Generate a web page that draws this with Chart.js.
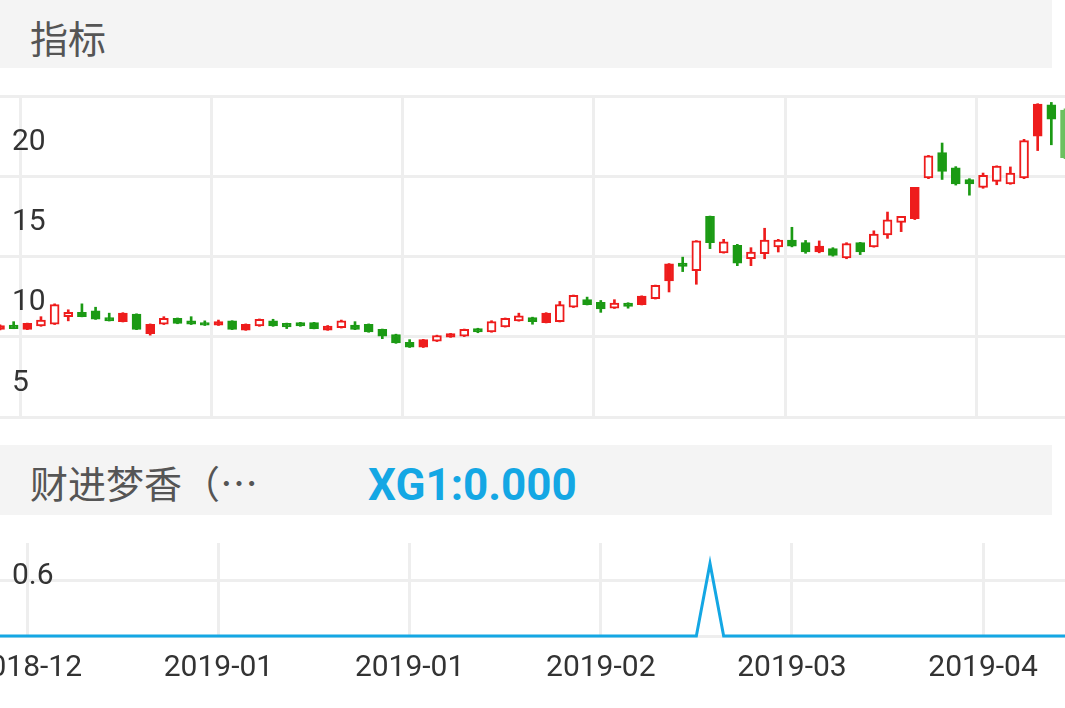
<!DOCTYPE html>
<html>
<head>
<meta charset="utf-8">
<script src="https://cdn.jsdelivr.net/npm/chart.js@4"></script>
<style>
  body { margin:0; width:1065px; height:708px; background:#fff; overflow:hidden; font-family:"Noto Sans CJK SC","Noto Sans",Roboto,sans-serif; position:relative; }
  .bar { position:absolute; left:0; width:1052px; height:68px; background:#f4f4f4; }
  .bar span { position:absolute; top:12px; font-size:38px; line-height:50px; color:#555; }
  #c1wrap { position:absolute; left:0; top:66px; width:1065px; height:381px; }
  #c2wrap { position:absolute; left:0; top:513px; width:1065px; height:195px; }
</style>
</head>
<body>
<div class="bar" style="top:0"><span style="left:30px">指标</span></div>
<div class="bar" style="top:445px;height:70px"><span style="left:30px">财进梦香（⋯</span><span style="left:368px;top:15px;font-size:44px;color:#14a7e4;font-weight:bold;font-family:Roboto,sans-serif">XG1:0.000</span></div>
<div id="c1wrap"><canvas id="kline"></canvas></div>
<div id="c2wrap"><canvas id="xg"></canvas></div>
<script>
var open  = [10.45,10.72,10.46,10.67,10.78,11.25,11.52,11.62,11.2,10.94,11.41,10.19,10.78,11.15,10.99,10.88,10.72,10.99,10.41,10.67,10.99,10.83,10.88,10.88,10.41,10.56,10.72,10.78,10.46,10.14,9.66,
             9.35,9.72,9.98,10.03,10.51,10.3,10.62,10.99,11.2,10.88,10.94,11.84,12.31,12.15,11.78,12.1,12.0,12.37,13.48,14.59,14.12,17.5,15.23,15.7,14.86,15.17,
             15.6,16.02,15.86,15.28,15.49,14.91,15.86,15.6,16.34,17.13,17.35,19.9,21.48,20.53,19.8,19.31,19.68,19.52,19.9,22.5,24.45,24.13];
var close = [10.7,10.51,10.83,11.04,12.0,11.52,11.25,11.09,10.99,11.47,10.46,10.78,11.15,10.83,10.78,10.72,10.94,10.46,10.78,11.09,10.67,10.62,10.67,10.51,10.67,10.99,10.46,10.3,10.03,9.61,9.35,
             9.82,10.08,10.19,10.46,10.3,10.94,11.15,11.3,10.94,11.47,12.0,12.58,12.0,11.73,12.1,11.89,12.53,13.2,14.54,14.38,15.97,15.86,15.92,14.59,15.28,16.02,
             16.02,15.65,15.28,15.65,15.07,15.81,15.28,16.39,17.29,17.5,19.31,21.27,20.3,19.52,19.52,20.05,20.63,20.2,22.22,24.5,23.55,21.16];
var high  = [10.75,10.94,10.85,11.25,12.05,11.68,12.05,11.84,11.47,11.5,11.43,10.8,11.25,11.17,11.25,10.99,11.04,11.0,10.8,11.11,11.09,10.85,10.9,10.9,10.7,11.04,10.94,10.8,10.48,10.16,9.82,
             9.84,10.1,10.21,10.48,10.53,11.0,11.17,11.47,11.22,11.5,12.2,12.6,12.47,12.26,12.31,12.12,12.55,13.22,14.56,14.96,15.99,17.52,16.07,15.76,15.55,16.76,
             16.07,16.82,16.0,15.97,15.55,15.86,15.88,16.6,17.77,17.5,19.31,21.3,22.07,20.6,19.85,20.2,20.65,20.58,22.3,24.52,24.6,24.2];
var low   = [10.42,10.5,10.44,10.65,10.76,10.99,11.24,11.08,10.98,10.92,10.44,10.1,10.76,10.81,10.76,10.7,10.7,10.44,10.4,10.65,10.65,10.51,10.65,10.49,10.4,10.54,10.44,10.28,9.88,9.59,9.33,
             9.33,9.7,9.96,10.01,10.25,10.28,10.6,10.97,10.78,10.86,10.92,11.82,11.98,11.52,11.76,11.78,11.98,12.35,12.79,14.06,13.27,15.49,15.21,14.43,14.43,14.86,
             15.28,15.6,15.2,15.23,15.02,14.86,15.12,15.58,16.13,16.55,17.3,19.85,19.8,19.45,18.82,19.25,19.47,19.5,19.85,21.6,21.96,21.1];
var solidUp = [0,2,9,11,16,18,24,31,33,40,47,49,60,67,76];
var xg1 = [];
for (var i = 0; i < open.length; i++) xg1.push(i == 52 ? 0.78 : 0);

var tickIdx = [2,16,30,44,58,72];
var tickLabels = ['2018-12','2019-01','2019-01','2019-02','2019-03','2019-04'];
var labels = open.map(function(v, i){ return i; });

var RED = '#ee1c1c', GREEN = '#1b9a14', GRID = '#eeeeee';
var up = open.map(function(o, i){ return close[i] > o; });
var col = up.map(function(u){ return u ? RED : GREEN; });
var fill = up.map(function(u, i){ return u ? (solidUp.indexOf(i) >= 0 ? RED : '#ffffff') : GREEN; });
col[78] = '#6cc05f'; fill[78] = '#6cc05f';

function gridCol(ctx){ return tickIdx.indexOf(ctx.index) >= 0 ? GRID : 'rgba(0,0,0,0)'; }
function noPad(ax){ ax.paddingLeft = 0; ax.paddingRight = 0; }

new Chart(document.getElementById('kline'), {
  type: 'bar',
  data: {
    labels: labels,
    datasets: [
      { data: low.map(function(l, i){ return [l, high[i]]; }), backgroundColor: col, barThickness: 2, grouped: false, order: 2 },
      { data: open.map(function(o, i){ return [o, close[i]]; }), backgroundColor: fill, borderColor: col, borderWidth: 2, borderSkipped: false,
        barThickness: 9, minBarLength: 2, grouped: false, order: 1 }
    ]
  },
  options: {
    animation: false, responsive: true, maintainAspectRatio: false,
    layout: { padding: { top: 2, bottom: 2 } },
    plugins: { legend: { display: false }, tooltip: { enabled: false } },
    scales: {
      x: { offset: false, afterFit: noPad, ticks: { display: false, autoSkip: false }, grid: { color: gridCol, lineWidth: 3, drawTicks: false }, border: { display: false } },
      y: { min: 5, max: 25, afterFit: function(ax){ ax.width = 0; },
           ticks: { stepSize: 5, mirror: true, padding: 12, labelOffset: -34, color: '#333', font: { size: 30, family: 'Roboto' },
             callback: function(v){ return v == 25 ? '' : v; } },
           grid: { color: GRID, lineWidth: 3, drawTicks: false }, border: { display: false } }
    }
  }
});

new Chart(document.getElementById('xg'), {
  type: 'line',
  data: { labels: labels, datasets: [{ data: xg1, borderColor: '#14a7e4', borderWidth: 3, pointRadius: 0, tension: 0, clip: false }] },
  options: {
    animation: false, responsive: true, maintainAspectRatio: false,
    layout: { padding: { bottom: 8, top: 2 } },
    plugins: { legend: { display: false }, tooltip: { enabled: false } },
    scales: {
      x: { offset: false, afterFit: noPad,
           ticks: { autoSkip: false, maxRotation: 0, color: '#333', font: { size: 30, family: 'Roboto' }, padding: 14,
                    callback: function(v, i){ var k = tickIdx.indexOf(i); return k >= 0 ? tickLabels[k] : ''; } },
           grid: { color: gridCol, lineWidth: 3, drawTicks: false }, border: { display: false } },
      y: { min: 0, max: 1, afterFit: function(ax){ ax.width = 0; },
           afterBuildTicks: function(ax){ ax.ticks = [{value:0},{value:0.3},{value:0.6},{value:0.9}]; },
           ticks: { mirror: true, padding: 12, labelOffset: -4, color: '#333', font: { size: 30, family: 'Roboto' },
                    callback: function(v){ return v == 0 ? '' : v.toFixed(1); } },
           grid: { color: GRID, lineWidth: 3, drawTicks: false }, border: { display: false } }
    }
  }
});
</script>
</body>
</html>
